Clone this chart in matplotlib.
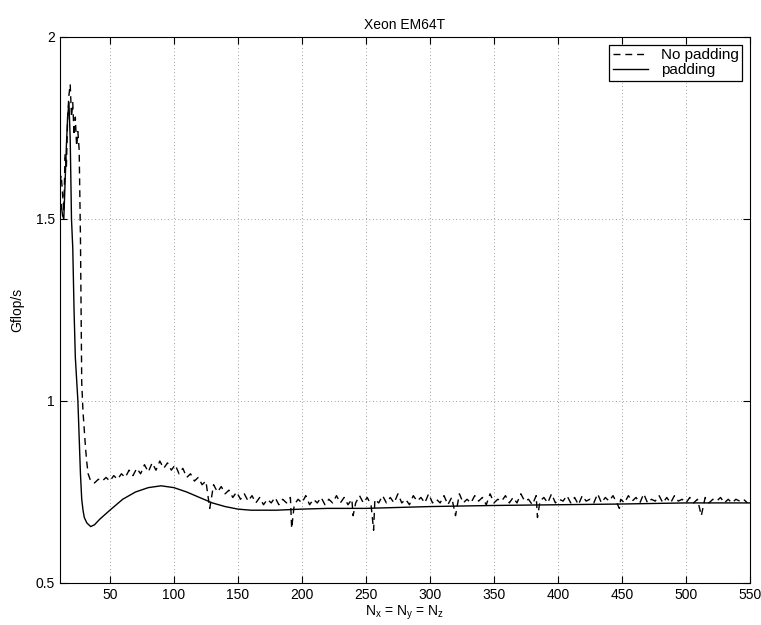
import numpy as np
import matplotlib.pyplot as plt

plt.rcParams['font.family'] = ['Liberation Sans', 'DejaVu Sans']
plt.rcParams['mathtext.fontset'] = 'custom'
plt.rcParams['mathtext.rm'] = 'Liberation Sans'
plt.rcParams['mathtext.it'] = 'Liberation Sans'

# padding (solid)
pad_n = [11, 12, 13, 14, 15, 16, 17, 18, 19, 20, 21, 22, 23, 24, 25, 26, 27, 28, 29, 30,
         32, 35, 38, 42, 50, 60, 70, 80, 90, 100, 110, 120, 130, 140, 150, 160, 180,
         200, 220, 250, 280, 300, 350, 400, 450, 500, 550]
pad_g = [1.52, 1.54, 1.51, 1.50, 1.60, 1.70, 1.78, 1.82, 1.72, 1.50, 1.42, 1.25, 1.12, 1.06, 1.00, 0.90,
         0.80, 0.73, 0.70, 0.68, 0.665, 0.655, 0.66, 0.675, 0.70, 0.73, 0.75, 0.762, 0.767, 0.762,
         0.75, 0.735, 0.72, 0.71, 0.703, 0.70, 0.70, 0.703, 0.705, 0.705, 0.708, 0.71, 0.713,
         0.715, 0.717, 0.72, 0.72]

# no padding (dashed), start of curve
nop_n0 = [11, 12, 13, 14, 15, 16, 17, 18, 19, 20, 21, 22, 23, 24, 25, 26, 27, 28, 29, 30,
          31, 32, 33, 34]
nop_g0 = [1.60, 1.62, 1.57, 1.52, 1.68, 1.64, 1.78, 1.84, 1.87, 1.78, 1.82, 1.73, 1.78, 1.70,
          1.74, 1.69, 1.45, 1.05, 0.97, 0.92, 0.87, 0.83, 0.80, 0.79]
# no padding, N = 35, 38, ..., 548
nop_n1 = list(range(35, 549, 3))
nop_g1 = [0.78, 0.775, 0.785, 0.78, 0.79, 0.78, 0.795, 0.785, 0.80, 0.79,
          0.81, 0.795, 0.815, 0.80, 0.825, 0.805, 0.83, 0.81, 0.835, 0.815,
          0.83, 0.81, 0.825, 0.80, 0.815, 0.79, 0.80, 0.78, 0.79, 0.77,
          0.78, 0.76, 0.77, 0.75, 0.765, 0.745, 0.755, 0.735, 0.75, 0.73,
          0.745, 0.725, 0.74, 0.72, 0.735, 0.715, 0.73, 0.72, 0.735, 0.715,
          0.73, 0.72, 0.735, 0.715, 0.73, 0.72, 0.74, 0.715, 0.73, 0.72,
          0.735, 0.715, 0.73, 0.72, 0.74, 0.72, 0.735, 0.715, 0.73, 0.72,
          0.74, 0.72, 0.735, 0.715, 0.73, 0.72, 0.74, 0.72, 0.735, 0.72,
          0.745, 0.72, 0.73, 0.715, 0.74, 0.725, 0.735, 0.72, 0.745, 0.72,
          0.73, 0.72, 0.74, 0.715, 0.735, 0.725, 0.745, 0.72, 0.73, 0.72,
          0.74, 0.725, 0.735, 0.715, 0.745, 0.72, 0.73, 0.725, 0.74, 0.72,
          0.735, 0.72, 0.745, 0.725, 0.73, 0.715, 0.74, 0.725, 0.735, 0.72,
          0.745, 0.72, 0.73, 0.725, 0.74, 0.72, 0.735, 0.715, 0.74, 0.725,
          0.73, 0.72, 0.745, 0.72, 0.735, 0.725, 0.74, 0.72, 0.73, 0.72,
          0.74, 0.725, 0.735, 0.72, 0.745, 0.72, 0.73, 0.725, 0.74, 0.72,
          0.735, 0.72, 0.74, 0.725, 0.73, 0.72, 0.735, 0.72, 0.73, 0.725,
          0.735, 0.72, 0.73, 0.725, 0.735, 0.72, 0.73, 0.72, 0.73, 0.725,
          0.73, 0.72]
# cache-conflict drops
spike_n = [128, 192, 240, 256, 320, 384, 448, 512]
spike_g = [0.705, 0.65, 0.685, 0.645, 0.685, 0.68, 0.705, 0.685]

nop = dict(zip(nop_n0 + nop_n1, nop_g0 + nop_g1))
nop.update(zip(spike_n, spike_g))
nop_n = sorted(nop)
nop_g = [nop[n] for n in nop_n]

fig = plt.figure(figsize=(7.61, 6.25), dpi=100)
ax = fig.add_axes([0.0788, 0.0672, 0.9067, 0.8736])

ax.plot(nop_n, nop_g, color='k', lw=1.0, linestyle=(0, (5, 3.5)), label='No padding')
ax.plot(pad_n, pad_g, color='k', lw=1.0, label='padding')

ax.set_xlim(11, 550)
ax.set_ylim(0.5, 2)
ax.set_xticks(range(50, 551, 50))
ax.set_yticks([0.5, 1, 1.5, 2])
ax.set_yticklabels(['0.5', '1', '1.5', '2'])
ax.grid(True, color='k', linestyle=(0, (1, 4)), linewidth=0.5, alpha=0.7)
ax.tick_params(direction='in', top=True, right=True, labelsize=10, length=5)

ax.set_title('Xeon EM64T', fontsize=10)
ax.set_xlabel(r'N$_\mathrm{x}$ = N$_\mathrm{y}$ = N$_\mathrm{z}$', fontsize=10, labelpad=1)
ax.set_ylabel('Gflop/s', fontsize=10, labelpad=8)

leg = ax.legend(loc='upper right', fontsize=11, fancybox=False, framealpha=1,
                edgecolor='k', handlelength=2.3, borderpad=0.25, labelspacing=0.05,
                borderaxespad=0.5)
leg.get_frame().set_linewidth(0.9)

fig.savefig('out.png', dpi=100)
